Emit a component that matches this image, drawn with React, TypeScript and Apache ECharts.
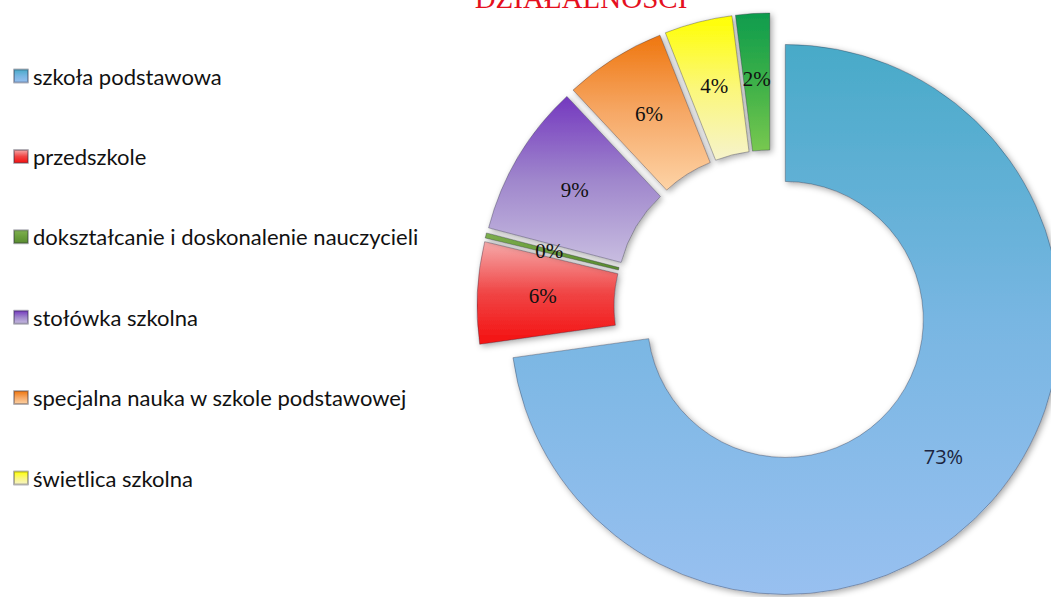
import React, { useEffect, useRef } from "react";
import * as echarts from "echarts";

const categories = [
  "szkoła podstawowa",
  "przedszkole",
  "dokształcanie i doskonalenie nauczycieli",
  "stołówka szkolna",
  "specjalna nauka w szkole podstawowej",
  "świetlica szkolna",
  "pozostała działalność",
];
const shares = [73, 6, 0.3, 9, 6, 4, 2];
const legendNames = categories.slice(0, 6);
const titleText = "DZIAŁALNOŚCI";

const gradients: string[][] = [
  ["#48aac8", "#78b6e2", "#98c0f0"],
  ["#f6aaaa", "#f04545", "#f41010"],
  ["#7fb050", "#6a9e3c", "#5a8c30"],
  ["#7438bf", "#9f86cc", "#c8bde0"],
  ["#ef760e", "#f6a866", "#fdd3a6"],
  ["#ffff00", "#fbf77a", "#f6f3cc"],
  ["#0e9c4e", "#3cb048", "#78c850"],
];

function grad(stops: string[]) {
  return new echarts.graphic.LinearGradient(0, 0, 0, 1, [
    { offset: 0, color: stops[0] },
    { offset: 0.5, color: stops[1] },
    { offset: 1, color: stops[2] },
  ]);
}

export default function App() {
  const ref = useRef<HTMLDivElement>(null);
  useEffect(() => {
    if (!ref.current) return;
    const chart = echarts.init(ref.current, undefined, { renderer: "svg" });
    const data = categories.map((name, i) => ({
      name,
      value: shares[i],
      selected: true,
      itemStyle: { color: grad(gradients[i]) },
      label:
        i === 0
          ? { fontFamily: "'Open Sans', sans-serif", color: "#1c2540", fontSize: 20 }
          : undefined,
    }));
    chart.setOption({
      animation: false,
      backgroundColor: "#ffffff",
      graphic: [
        {
          type: "text",
          x: 581,
          y: -2,
          style: {
            text: titleText,
            fontSize: 29,
            fontFamily: "'Liberation Serif', 'DejaVu Serif', serif",
            fill: "#e5101e",
            align: "center",
            verticalAlign: "middle",
          },
        },
      ],
      legend: {
        data: legendNames,
        orient: "vertical",
        left: 8,
        top: 59,
        itemWidth: 14,
        itemHeight: 13,
        itemGap: 56.4,
        icon: "rect",
        selectedMode: false,
        textStyle: {
          fontFamily: "Lato, 'Open Sans', sans-serif",
          fontSize: 22,
          lineHeight: 24,
          color: "#111",
        },
      },
      series: [
        {
          type: "pie",
          center: [771, 307],
          radius: [138, 275],
          startAngle: 90,
          clockwise: true,
          selectedMode: "multiple",
          selectedOffset: 19,
          avoidLabelOverlap: false,
          silent: true,
          itemStyle: {
            borderColor: "rgba(40,40,60,0.35)",
            borderWidth: 1,
            shadowBlur: 6,
            shadowColor: "rgba(0,0,0,0.35)",
            shadowOffsetX: 2,
            shadowOffsetY: 2,
          },
          label: {
            show: true,
            position: "inside",
            fontFamily: "'Liberation Serif', 'DejaVu Serif', serif",
            fontSize: 21,
            color: "#111",
            padding: [4, 0, 0, 0],
            formatter: (p: any) => Math.round(p.percent) + "%",
          },
          labelLine: { show: false },
          data,
        },
      ],
    });
    return () => chart.dispose();
  }, []);
  return (
    <div
      ref={ref}
      style={{ position: "fixed", left: 0, top: 0, width: 1051, height: 597 }}
    />
  );
}
